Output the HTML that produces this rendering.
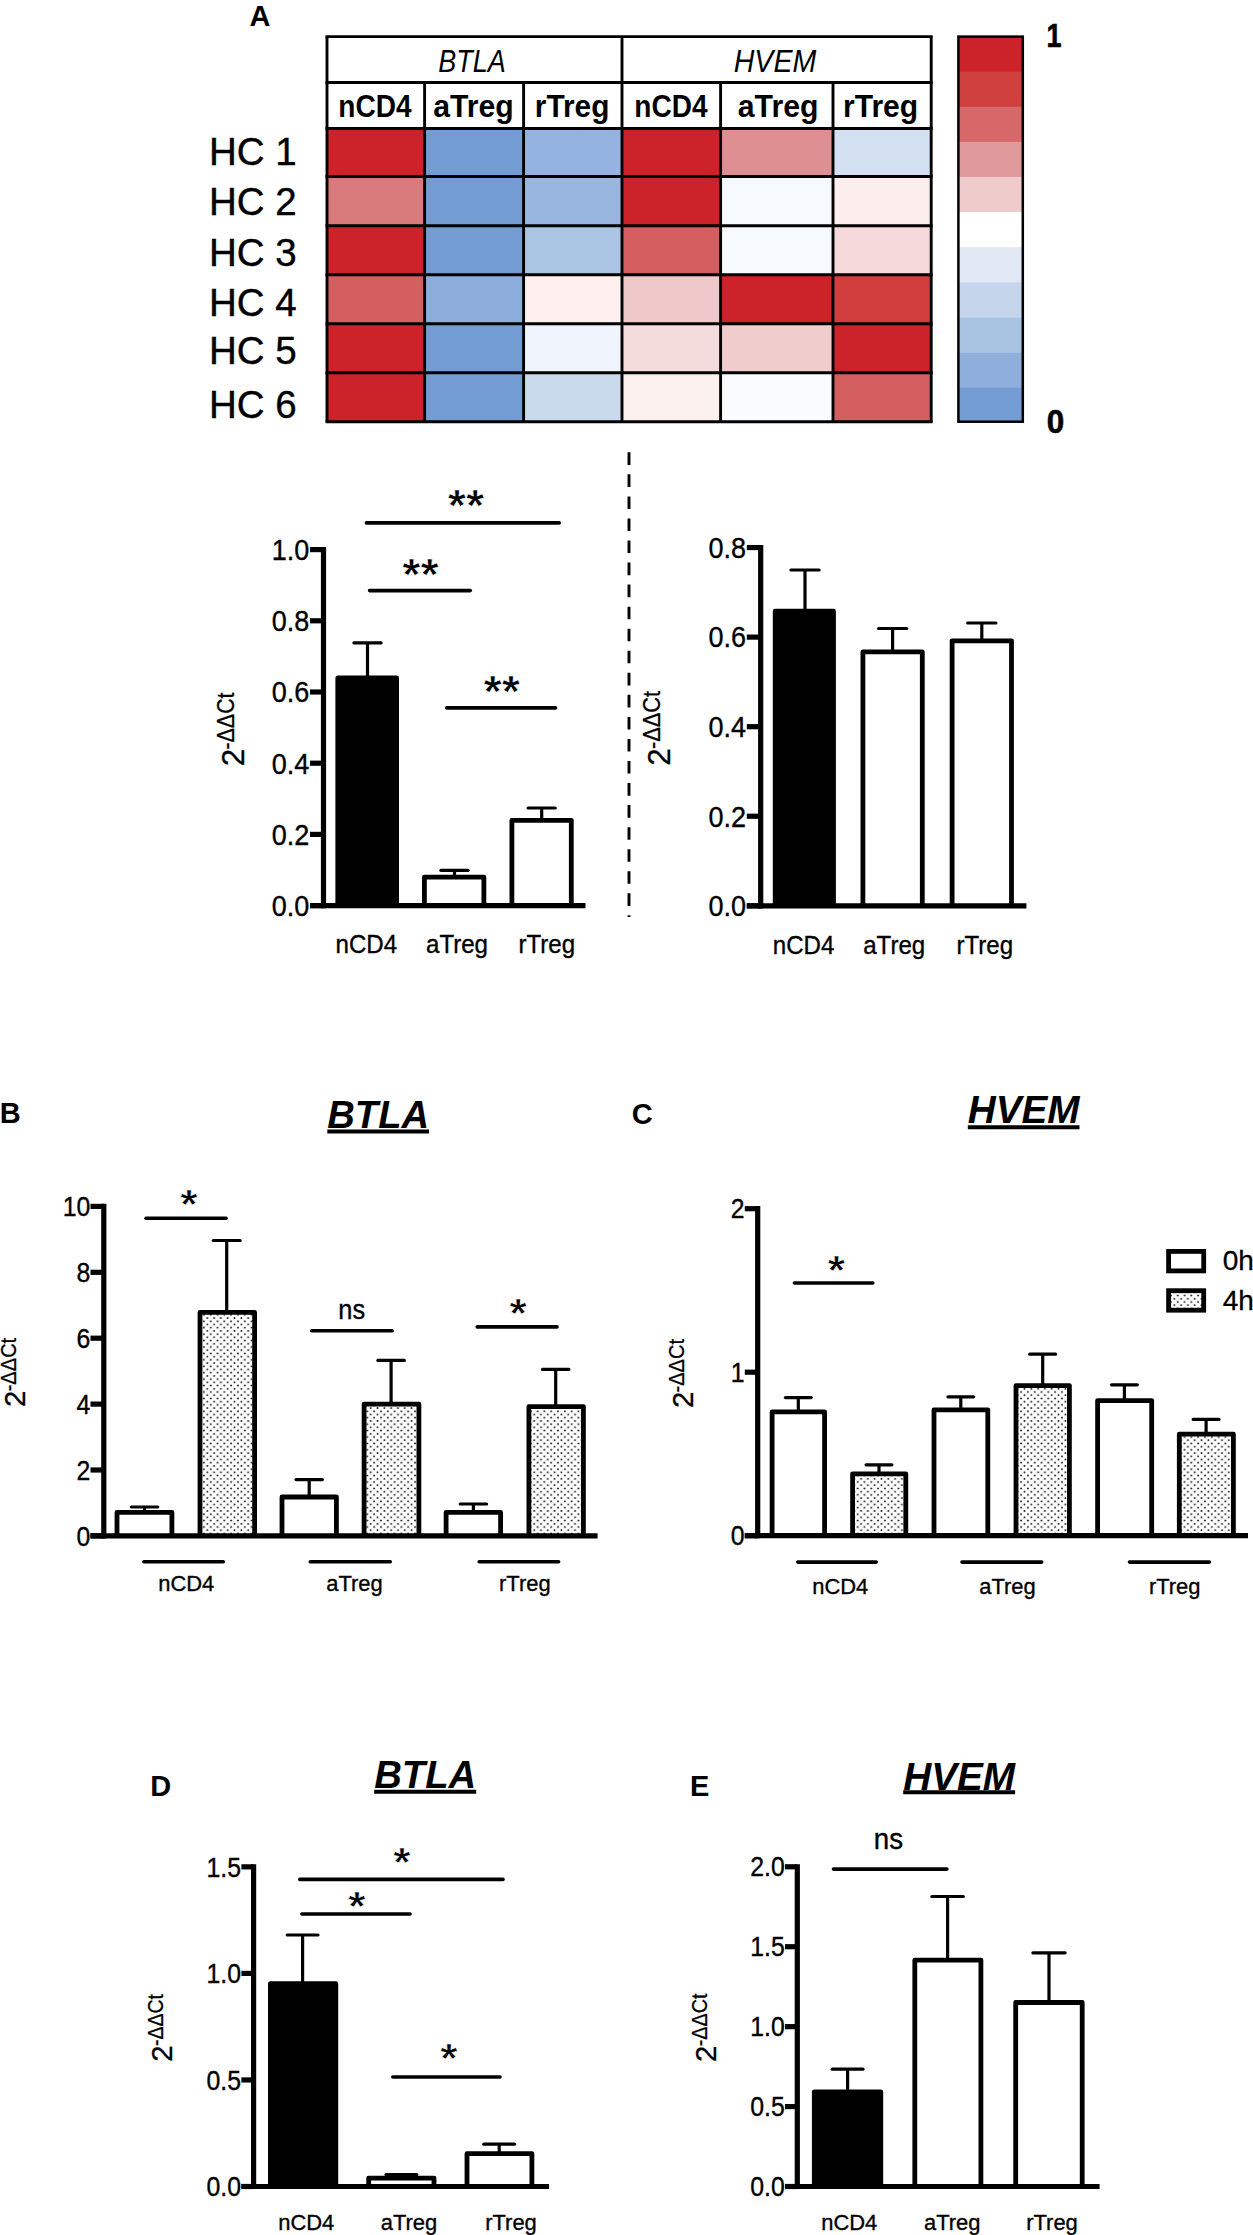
<!DOCTYPE html>
<html lang="en">
<head>
<meta charset="utf-8">
<title>BTLA and HVEM expression</title>
<style>
html,body{margin:0;padding:0;background:#fff;}
body{width:1253px;height:2235px;overflow:hidden;}
svg{display:block;}
text{fill:#000;}
</style>
</head>
<body>
<svg width="1253" height="2235" viewBox="0 0 1253 2235">
<rect width="1253" height="2235" fill="#fff"/>
<rect x="327" y="128.5" width="97.6" height="48.0" fill="#cc2229"/>
<rect x="424.6" y="128.5" width="99.0" height="48.0" fill="#739cd2"/>
<rect x="523.6" y="128.5" width="98.4" height="48.0" fill="#95b3e0"/>
<rect x="622" y="128.5" width="98.6" height="48.0" fill="#cc2229"/>
<rect x="720.6" y="128.5" width="112.4" height="48.0" fill="#de8f91"/>
<rect x="833" y="128.5" width="98.2" height="48.0" fill="#d3e0f1"/>
<rect x="327" y="176.5" width="97.6" height="49.2" fill="#d97a7c"/>
<rect x="424.6" y="176.5" width="99.0" height="49.2" fill="#739cd2"/>
<rect x="523.6" y="176.5" width="98.4" height="49.2" fill="#98b6e0"/>
<rect x="622" y="176.5" width="98.6" height="49.2" fill="#cc2229"/>
<rect x="720.6" y="176.5" width="112.4" height="49.2" fill="#f6f9fd"/>
<rect x="833" y="176.5" width="98.2" height="49.2" fill="#fbeeed"/>
<rect x="327" y="225.7" width="97.6" height="49.0" fill="#cc2229"/>
<rect x="424.6" y="225.7" width="99.0" height="49.0" fill="#739cd2"/>
<rect x="523.6" y="225.7" width="98.4" height="49.0" fill="#aac4e4"/>
<rect x="622" y="225.7" width="98.6" height="49.0" fill="#d45d5f"/>
<rect x="720.6" y="225.7" width="112.4" height="49.0" fill="#f6f9fd"/>
<rect x="833" y="225.7" width="98.2" height="49.0" fill="#f4dada"/>
<rect x="327" y="274.7" width="97.6" height="49.0" fill="#d45f61"/>
<rect x="424.6" y="274.7" width="99.0" height="49.0" fill="#8daedc"/>
<rect x="523.6" y="274.7" width="98.4" height="49.0" fill="#fdf0ef"/>
<rect x="622" y="274.7" width="98.6" height="49.0" fill="#efc9c9"/>
<rect x="720.6" y="274.7" width="112.4" height="49.0" fill="#cc2229"/>
<rect x="833" y="274.7" width="98.2" height="49.0" fill="#d03e3d"/>
<rect x="327" y="323.7" width="97.6" height="49.1" fill="#cc2229"/>
<rect x="424.6" y="323.7" width="99.0" height="49.1" fill="#739cd2"/>
<rect x="523.6" y="323.7" width="98.4" height="49.1" fill="#eef3fc"/>
<rect x="622" y="323.7" width="98.6" height="49.1" fill="#f4dcdc"/>
<rect x="720.6" y="323.7" width="112.4" height="49.1" fill="#f0cccc"/>
<rect x="833" y="323.7" width="98.2" height="49.1" fill="#cc2229"/>
<rect x="327" y="372.8" width="97.6" height="48.9" fill="#cc2229"/>
<rect x="424.6" y="372.8" width="99.0" height="48.9" fill="#739cd2"/>
<rect x="523.6" y="372.8" width="98.4" height="48.9" fill="#c9daed"/>
<rect x="622" y="372.8" width="98.6" height="48.9" fill="#fdf1f0"/>
<rect x="720.6" y="372.8" width="112.4" height="48.9" fill="#f9fbfe"/>
<rect x="833" y="372.8" width="98.2" height="48.9" fill="#d45f61"/>
<line x1="325.55" y1="36.6" x2="932.6500000000001" y2="36.6" stroke="#000" stroke-width="2.9"/>
<line x1="325.55" y1="82.5" x2="932.6500000000001" y2="82.5" stroke="#000" stroke-width="2.9"/>
<line x1="325.55" y1="128.5" x2="932.6500000000001" y2="128.5" stroke="#000" stroke-width="2.9"/>
<line x1="325.55" y1="176.5" x2="932.6500000000001" y2="176.5" stroke="#000" stroke-width="2.9"/>
<line x1="325.55" y1="225.7" x2="932.6500000000001" y2="225.7" stroke="#000" stroke-width="2.9"/>
<line x1="325.55" y1="274.7" x2="932.6500000000001" y2="274.7" stroke="#000" stroke-width="2.9"/>
<line x1="325.55" y1="323.7" x2="932.6500000000001" y2="323.7" stroke="#000" stroke-width="2.9"/>
<line x1="325.55" y1="372.8" x2="932.6500000000001" y2="372.8" stroke="#000" stroke-width="2.9"/>
<line x1="325.55" y1="421.7" x2="932.6500000000001" y2="421.7" stroke="#000" stroke-width="2.9"/>
<line x1="327" y1="36.6" x2="327" y2="421.7" stroke="#000" stroke-width="2.9"/>
<line x1="424.6" y1="82.5" x2="424.6" y2="421.7" stroke="#000" stroke-width="2.9"/>
<line x1="523.6" y1="82.5" x2="523.6" y2="421.7" stroke="#000" stroke-width="2.9"/>
<line x1="622" y1="36.6" x2="622" y2="421.7" stroke="#000" stroke-width="2.9"/>
<line x1="720.6" y1="82.5" x2="720.6" y2="421.7" stroke="#000" stroke-width="2.9"/>
<line x1="833" y1="82.5" x2="833" y2="421.7" stroke="#000" stroke-width="2.9"/>
<line x1="931.2" y1="36.6" x2="931.2" y2="421.7" stroke="#000" stroke-width="2.9"/>
<g font-family='"Liberation Sans", Arial, Helvetica, sans-serif' fill="#000">
<text x="472" y="71.6" font-size="30.5" text-anchor="middle" font-style="italic" textLength="67.5" lengthAdjust="spacingAndGlyphs">BTLA</text>
<text x="775" y="71.5" font-size="30.5" text-anchor="middle" font-style="italic" textLength="82.5" lengthAdjust="spacingAndGlyphs">HVEM</text>
<text x="338.3" y="117.2" font-size="31" font-weight="bold" textLength="73.3" lengthAdjust="spacingAndGlyphs">nCD4</text>
<text x="433.3" y="117.2" font-size="31" font-weight="bold" textLength="80.5" lengthAdjust="spacingAndGlyphs">aTreg</text>
<text x="534.8" y="117.2" font-size="31" font-weight="bold" textLength="74.6" lengthAdjust="spacingAndGlyphs">rTreg</text>
<text x="634.3" y="117.2" font-size="31" font-weight="bold" textLength="73.3" lengthAdjust="spacingAndGlyphs">nCD4</text>
<text x="737.8" y="117.2" font-size="31" font-weight="bold" textLength="80.6" lengthAdjust="spacingAndGlyphs">aTreg</text>
<text x="843" y="117.2" font-size="31" font-weight="bold" textLength="75.2" lengthAdjust="spacingAndGlyphs">rTreg</text>
<text x="209" y="164.5" font-size="38.5" stroke="#000" stroke-width="0.4">HC 1</text>
<text x="209" y="215" font-size="38.5" stroke="#000" stroke-width="0.4">HC 2</text>
<text x="209" y="266" font-size="38.5" stroke="#000" stroke-width="0.4">HC 3</text>
<text x="209" y="316.2" font-size="38.5" stroke="#000" stroke-width="0.4">HC 4</text>
<text x="209" y="363.9" font-size="38.5" stroke="#000" stroke-width="0.4">HC 5</text>
<text x="209" y="417.5" font-size="38.5" stroke="#000" stroke-width="0.4">HC 6</text>
<text x="249.4" y="25.9" font-size="29" font-weight="bold">A</text>
<text x="-0.2" y="1123.4" font-size="29" font-weight="bold">B</text>
<text x="631.8" y="1123.5" font-size="29" font-weight="bold">C</text>
<text x="150.3" y="1796" font-size="29" font-weight="bold">D</text>
<text x="689.9" y="1796" font-size="29" font-weight="bold">E</text>
<text x="1054" y="47" font-size="33" text-anchor="middle" font-weight="bold" textLength="15" lengthAdjust="spacingAndGlyphs" stroke="#000" stroke-width="0.6">1</text>
<text x="1055.5" y="432.7" font-size="33" text-anchor="middle" font-weight="bold" textLength="17.5" lengthAdjust="spacingAndGlyphs" stroke="#000" stroke-width="0.6">0</text>
</g>
<rect x="958.4" y="36.60" width="64.4" height="35.40" fill="#cc2229"/>
<rect x="958.4" y="71.70" width="64.4" height="35.40" fill="#d0403e"/>
<rect x="958.4" y="106.80" width="64.4" height="35.40" fill="#d6686a"/>
<rect x="958.4" y="141.90" width="64.4" height="35.40" fill="#e09a9c"/>
<rect x="958.4" y="177.00" width="64.4" height="35.40" fill="#efcbcc"/>
<rect x="958.4" y="212.10" width="64.4" height="35.40" fill="#ffffff"/>
<rect x="958.4" y="247.20" width="64.4" height="35.40" fill="#e1e7f3"/>
<rect x="958.4" y="282.30" width="64.4" height="35.40" fill="#c5d6ec"/>
<rect x="958.4" y="317.40" width="64.4" height="35.40" fill="#a9c3e2"/>
<rect x="958.4" y="352.50" width="64.4" height="35.40" fill="#8eafdb"/>
<rect x="958.4" y="387.60" width="64.4" height="35.40" fill="#739cd2"/>
<rect x="958.4" y="36.6" width="64.4" height="385.1" fill="none" stroke="#000" stroke-width="2.5"/>
<line x1="629" y1="452.3" x2="629" y2="917.1" stroke="#000" stroke-width="2.9" stroke-dasharray="12.6 9.45"/>
<defs><pattern id="dots" patternUnits="userSpaceOnUse" x="203.9" y="1318.05" width="6.81" height="6.43"><rect width="6.81" height="6.43" fill="#fff"/><circle cx="3.4" cy="0" r="1.0" fill="#1a1a1a"/><circle cx="3.4" cy="6.43" r="1.0" fill="#1a1a1a"/><circle cx="0" cy="3.215" r="1.0" fill="#1a1a1a"/><circle cx="6.81" cy="3.215" r="1.0" fill="#1a1a1a"/></pattern></defs>
<text transform="translate(309.3,559.9) scale(0.94,1)" font-size="28.75" text-anchor="end" stroke="#000" stroke-width="0.35" font-family='"Liberation Sans", Arial, Helvetica, sans-serif'>1.0</text>
<text transform="translate(309.3,631.1) scale(0.94,1)" font-size="28.75" text-anchor="end" stroke="#000" stroke-width="0.35" font-family='"Liberation Sans", Arial, Helvetica, sans-serif'>0.8</text>
<text transform="translate(309.3,702.3) scale(0.94,1)" font-size="28.75" text-anchor="end" stroke="#000" stroke-width="0.35" font-family='"Liberation Sans", Arial, Helvetica, sans-serif'>0.6</text>
<text transform="translate(309.3,773.5) scale(0.94,1)" font-size="28.75" text-anchor="end" stroke="#000" stroke-width="0.35" font-family='"Liberation Sans", Arial, Helvetica, sans-serif'>0.4</text>
<text transform="translate(309.3,844.7) scale(0.94,1)" font-size="28.75" text-anchor="end" stroke="#000" stroke-width="0.35" font-family='"Liberation Sans", Arial, Helvetica, sans-serif'>0.2</text>
<text transform="translate(309.3,915.9) scale(0.94,1)" font-size="28.75" text-anchor="end" stroke="#000" stroke-width="0.35" font-family='"Liberation Sans", Arial, Helvetica, sans-serif'>0.0</text>
<line x1="367.5" y1="642.8" x2="367.5" y2="680" stroke="#000" stroke-width="3.2"/>
<line x1="353.9" y1="642.8" x2="381.1" y2="642.8" stroke="#000" stroke-width="3.2" stroke-linecap="round"/>
<path d="M337.79999999999995,905.6 V677.9 H396.6 V905.6" fill="#000" stroke="#000" stroke-width="4.8" stroke-linejoin="round"/>
<line x1="454.5" y1="870.3" x2="454.5" y2="878" stroke="#000" stroke-width="3.2"/>
<line x1="440.9" y1="870.3" x2="468.1" y2="870.3" stroke="#000" stroke-width="3.2" stroke-linecap="round"/>
<path d="M424.4,905.6 V877.1999999999999 H483.90000000000003 V905.6" fill="#fff" stroke="#000" stroke-width="4.8" stroke-linejoin="round"/>
<line x1="541.7" y1="808" x2="541.7" y2="821" stroke="#000" stroke-width="3.2"/>
<line x1="528.1" y1="808" x2="555.3000000000001" y2="808" stroke="#000" stroke-width="3.2" stroke-linecap="round"/>
<path d="M511.9,905.6 V820.3 H571.3000000000001 V905.6" fill="#fff" stroke="#000" stroke-width="4.8" stroke-linejoin="round"/>
<line x1="366.40000000000003" y1="522.9" x2="559.2" y2="522.9" stroke="#000" stroke-width="3.6" stroke-linecap="round"/>
<text transform="translate(466.2,520.9) scale(1.05,1)" font-size="43.5" letter-spacing="0.5" text-anchor="middle" font-weight="bold" stroke="#fff" stroke-width="0.6" font-family='"Liberation Sans", Arial, Helvetica, sans-serif'>**</text>
<line x1="369.6" y1="590.6" x2="470.3" y2="590.6" stroke="#000" stroke-width="3.6" stroke-linecap="round"/>
<text transform="translate(420.8,589.9) scale(1.05,1)" font-size="43.5" letter-spacing="0.5" text-anchor="middle" font-weight="bold" stroke="#fff" stroke-width="0.6" font-family='"Liberation Sans", Arial, Helvetica, sans-serif'>**</text>
<line x1="446.8" y1="707.9" x2="555.6" y2="707.9" stroke="#000" stroke-width="3.6" stroke-linecap="round"/>
<text transform="translate(502,707) scale(1.05,1)" font-size="43.5" letter-spacing="0.5" text-anchor="middle" font-weight="bold" stroke="#fff" stroke-width="0.6" font-family='"Liberation Sans", Arial, Helvetica, sans-serif'>**</text>
<text transform="translate(366.3,952.8) scale(0.945,1)" font-size="25.5" text-anchor="middle" stroke="#000" stroke-width="0.35" font-family='"Liberation Sans", Arial, Helvetica, sans-serif'>nCD4</text>
<text transform="translate(457,952.8) scale(0.945,1)" font-size="25.5" text-anchor="middle" stroke="#000" stroke-width="0.35" font-family='"Liberation Sans", Arial, Helvetica, sans-serif'>aTreg</text>
<text transform="translate(546.7,952.8) scale(0.945,1)" font-size="25.5" text-anchor="middle" stroke="#000" stroke-width="0.35" font-family='"Liberation Sans", Arial, Helvetica, sans-serif'>rTreg</text>
<text transform="translate(243.7,766.2) rotate(-90)" font-family='"Liberation Sans", Arial, Helvetica, sans-serif' fill="#000" stroke="#000" stroke-width="0.3"><tspan font-size="31.5">2</tspan><tspan font-size="24.5" x="16.7" dy="-9.3" textLength="57.0" lengthAdjust="spacingAndGlyphs">-ΔΔCt</tspan></text>
<text transform="translate(746,557.9) scale(0.94,1)" font-size="28.75" text-anchor="end" stroke="#000" stroke-width="0.35" font-family='"Liberation Sans", Arial, Helvetica, sans-serif'>0.8</text>
<text transform="translate(746,647.4) scale(0.94,1)" font-size="28.75" text-anchor="end" stroke="#000" stroke-width="0.35" font-family='"Liberation Sans", Arial, Helvetica, sans-serif'>0.6</text>
<text transform="translate(746,737.0) scale(0.94,1)" font-size="28.75" text-anchor="end" stroke="#000" stroke-width="0.35" font-family='"Liberation Sans", Arial, Helvetica, sans-serif'>0.4</text>
<text transform="translate(746,826.5) scale(0.94,1)" font-size="28.75" text-anchor="end" stroke="#000" stroke-width="0.35" font-family='"Liberation Sans", Arial, Helvetica, sans-serif'>0.2</text>
<text transform="translate(746,916.1) scale(0.94,1)" font-size="28.75" text-anchor="end" stroke="#000" stroke-width="0.35" font-family='"Liberation Sans", Arial, Helvetica, sans-serif'>0.0</text>
<line x1="805" y1="570" x2="805" y2="612" stroke="#000" stroke-width="3.2"/>
<line x1="790.9" y1="570" x2="819.1" y2="570" stroke="#000" stroke-width="3.2" stroke-linecap="round"/>
<path d="M775.1999999999999,905.8 V611.1999999999999 H833.5 V905.8" fill="#000" stroke="#000" stroke-width="4.8" stroke-linejoin="round"/>
<line x1="892.6" y1="628.5" x2="892.6" y2="652" stroke="#000" stroke-width="3.2"/>
<line x1="878.5" y1="628.5" x2="906.7" y2="628.5" stroke="#000" stroke-width="3.2" stroke-linecap="round"/>
<path d="M862.9,905.8 V651.8 H922.3000000000001 V905.8" fill="#fff" stroke="#000" stroke-width="4.8" stroke-linejoin="round"/>
<line x1="981.8" y1="623" x2="981.8" y2="641" stroke="#000" stroke-width="3.2"/>
<line x1="967.6999999999999" y1="623" x2="995.9" y2="623" stroke="#000" stroke-width="3.2" stroke-linecap="round"/>
<path d="M952.1,905.8 V640.8 H1011.5 V905.8" fill="#fff" stroke="#000" stroke-width="4.8" stroke-linejoin="round"/>
<text transform="translate(803.6,954.4) scale(0.945,1)" font-size="25.5" text-anchor="middle" stroke="#000" stroke-width="0.35" font-family='"Liberation Sans", Arial, Helvetica, sans-serif'>nCD4</text>
<text transform="translate(894.2,954.4) scale(0.945,1)" font-size="25.5" text-anchor="middle" stroke="#000" stroke-width="0.35" font-family='"Liberation Sans", Arial, Helvetica, sans-serif'>aTreg</text>
<text transform="translate(984.7,954.4) scale(0.945,1)" font-size="25.5" text-anchor="middle" stroke="#000" stroke-width="0.35" font-family='"Liberation Sans", Arial, Helvetica, sans-serif'>rTreg</text>
<text transform="translate(669.9,765.8) rotate(-90)" font-family='"Liberation Sans", Arial, Helvetica, sans-serif' fill="#000" stroke="#000" stroke-width="0.3"><tspan font-size="31.5">2</tspan><tspan font-size="24.5" x="16.7" dy="-10" textLength="58.2" lengthAdjust="spacingAndGlyphs">-ΔΔCt</tspan></text>
<text transform="translate(90.4,1216.1) scale(0.92,1)" font-size="27" text-anchor="end" stroke="#000" stroke-width="0.35" font-family='"Liberation Sans", Arial, Helvetica, sans-serif'>10</text>
<text transform="translate(90.4,1282.0) scale(0.92,1)" font-size="27" text-anchor="end" stroke="#000" stroke-width="0.35" font-family='"Liberation Sans", Arial, Helvetica, sans-serif'>8</text>
<text transform="translate(90.4,1347.9) scale(0.92,1)" font-size="27" text-anchor="end" stroke="#000" stroke-width="0.35" font-family='"Liberation Sans", Arial, Helvetica, sans-serif'>6</text>
<text transform="translate(90.4,1413.8) scale(0.92,1)" font-size="27" text-anchor="end" stroke="#000" stroke-width="0.35" font-family='"Liberation Sans", Arial, Helvetica, sans-serif'>4</text>
<text transform="translate(90.4,1479.7) scale(0.92,1)" font-size="27" text-anchor="end" stroke="#000" stroke-width="0.35" font-family='"Liberation Sans", Arial, Helvetica, sans-serif'>2</text>
<text transform="translate(90.4,1545.6) scale(0.92,1)" font-size="27" text-anchor="end" stroke="#000" stroke-width="0.35" font-family='"Liberation Sans", Arial, Helvetica, sans-serif'>0</text>
<line x1="144.5" y1="1507" x2="144.5" y2="1512" stroke="#000" stroke-width="3.2"/>
<line x1="131.3" y1="1507" x2="157.7" y2="1507" stroke="#000" stroke-width="3.2" stroke-linecap="round"/>
<path d="M117.0,1535.9 V1512.4 H171.9 V1535.9" fill="#fff" stroke="#000" stroke-width="4.8" stroke-linejoin="round"/>
<line x1="226.7" y1="1240.5" x2="226.7" y2="1313" stroke="#000" stroke-width="3.2"/>
<line x1="213.29999999999998" y1="1240.5" x2="240.1" y2="1240.5" stroke="#000" stroke-width="3.2" stroke-linecap="round"/>
<path d="M200.0,1535.9 V1312.4 H254.6 V1535.9" fill="url(#dots)" stroke="#000" stroke-width="4.8" stroke-linejoin="round"/>
<line x1="309.2" y1="1479.6" x2="309.2" y2="1497" stroke="#000" stroke-width="3.2"/>
<line x1="296.0" y1="1479.6" x2="322.4" y2="1479.6" stroke="#000" stroke-width="3.2" stroke-linecap="round"/>
<path d="M282.0,1535.9 V1497.0 H336.40000000000003 V1535.9" fill="#fff" stroke="#000" stroke-width="4.8" stroke-linejoin="round"/>
<line x1="391.1" y1="1360.4" x2="391.1" y2="1404" stroke="#000" stroke-width="3.2"/>
<line x1="377.90000000000003" y1="1360.4" x2="404.3" y2="1360.4" stroke="#000" stroke-width="3.2" stroke-linecap="round"/>
<path d="M364.09999999999997,1535.9 V1404.2 H418.90000000000003 V1535.9" fill="url(#dots)" stroke="#000" stroke-width="4.8" stroke-linejoin="round"/>
<line x1="473.4" y1="1504" x2="473.4" y2="1512" stroke="#000" stroke-width="3.2"/>
<line x1="460.2" y1="1504" x2="486.59999999999997" y2="1504" stroke="#000" stroke-width="3.2" stroke-linecap="round"/>
<path d="M446.09999999999997,1535.9 V1512.4 H500.6 V1535.9" fill="#fff" stroke="#000" stroke-width="4.8" stroke-linejoin="round"/>
<line x1="555.7" y1="1369.4" x2="555.7" y2="1407" stroke="#000" stroke-width="3.2"/>
<line x1="542.5" y1="1369.4" x2="568.9000000000001" y2="1369.4" stroke="#000" stroke-width="3.2" stroke-linecap="round"/>
<path d="M528.9,1535.9 V1406.6000000000001 H583.4 V1535.9" fill="url(#dots)" stroke="#000" stroke-width="4.8" stroke-linejoin="round"/>
<line x1="146.0" y1="1218.3" x2="226.1" y2="1218.3" stroke="#000" stroke-width="3.6" stroke-linecap="round"/>
<text transform="translate(188.9,1217.6) scale(1.1,1)" font-size="40.3" letter-spacing="0" text-anchor="middle" font-weight="bold" stroke="#fff" stroke-width="0.6" font-family='"Liberation Sans", Arial, Helvetica, sans-serif'>*</text>
<line x1="311.8" y1="1330.7" x2="392.09999999999997" y2="1330.7" stroke="#000" stroke-width="3.6" stroke-linecap="round"/>
<text transform="translate(351.7,1319.2) scale(0.94,1)" font-size="27" text-anchor="middle" stroke="#000" stroke-width="0.35" font-family='"Liberation Sans", Arial, Helvetica, sans-serif'>ns</text>
<line x1="477.2" y1="1326.9" x2="557.0" y2="1326.9" stroke="#000" stroke-width="3.6" stroke-linecap="round"/>
<text transform="translate(518.1,1327.3) scale(1.1,1)" font-size="40.3" letter-spacing="0" text-anchor="middle" font-weight="bold" stroke="#fff" stroke-width="0.6" font-family='"Liberation Sans", Arial, Helvetica, sans-serif'>*</text>
<line x1="143.9" y1="1561.8" x2="223.29999999999998" y2="1561.8" stroke="#000" stroke-width="3.6" stroke-linecap="round"/>
<text transform="translate(186.2,1591) scale(0.957,1)" font-size="22.9" text-anchor="middle" stroke="#000" stroke-width="0.35" font-family='"Liberation Sans", Arial, Helvetica, sans-serif'>nCD4</text>
<line x1="310.3" y1="1561.8" x2="390.3" y2="1561.8" stroke="#000" stroke-width="3.6" stroke-linecap="round"/>
<text transform="translate(354.5,1591) scale(0.957,1)" font-size="22.9" text-anchor="middle" stroke="#000" stroke-width="0.35" font-family='"Liberation Sans", Arial, Helvetica, sans-serif'>aTreg</text>
<line x1="479.2" y1="1561.8" x2="558.6" y2="1561.8" stroke="#000" stroke-width="3.6" stroke-linecap="round"/>
<text transform="translate(524.8,1591) scale(0.957,1)" font-size="22.9" text-anchor="middle" stroke="#000" stroke-width="0.35" font-family='"Liberation Sans", Arial, Helvetica, sans-serif'>rTreg</text>
<text transform="translate(24.9,1406.9) rotate(-90)" font-family='"Liberation Sans", Arial, Helvetica, sans-serif' fill="#000" stroke="#000" stroke-width="0.3"><tspan font-size="29.5">2</tspan><tspan font-size="21.5" x="15.6" dy="-8.9" textLength="53.5" lengthAdjust="spacingAndGlyphs">-ΔΔCt</tspan></text>
<text x="327.3" y="1128.4" font-size="38" font-weight="bold" font-style="italic" font-family='"Liberation Sans", Arial, Helvetica, sans-serif' textLength="101.7" lengthAdjust="spacingAndGlyphs">BTLA</text>
<line x1="327.3" y1="1131.6" x2="429" y2="1131.6" stroke="#000" stroke-width="4"/>
<text transform="translate(744.6,1218.4) scale(0.92,1)" font-size="27" text-anchor="end" stroke="#000" stroke-width="0.35" font-family='"Liberation Sans", Arial, Helvetica, sans-serif'>2</text>
<text transform="translate(744.6,1381.9) scale(0.92,1)" font-size="27" text-anchor="end" stroke="#000" stroke-width="0.35" font-family='"Liberation Sans", Arial, Helvetica, sans-serif'>1</text>
<text transform="translate(744.6,1545.4) scale(0.92,1)" font-size="27" text-anchor="end" stroke="#000" stroke-width="0.35" font-family='"Liberation Sans", Arial, Helvetica, sans-serif'>0</text>
<line x1="798.3" y1="1397.6" x2="798.3" y2="1412" stroke="#000" stroke-width="3.2"/>
<line x1="785.4" y1="1397.6" x2="811.1999999999999" y2="1397.6" stroke="#000" stroke-width="3.2" stroke-linecap="round"/>
<path d="M772.1,1535.7 V1411.9 H824.6 V1535.7" fill="#fff" stroke="#000" stroke-width="4.8" stroke-linejoin="round"/>
<line x1="879" y1="1464.8" x2="879" y2="1474" stroke="#000" stroke-width="3.2"/>
<line x1="866.1" y1="1464.8" x2="891.9" y2="1464.8" stroke="#000" stroke-width="3.2" stroke-linecap="round"/>
<path d="M852.6,1535.7 V1473.9 H905.8000000000001 V1535.7" fill="url(#dots)" stroke="#000" stroke-width="4.8" stroke-linejoin="round"/>
<line x1="960.8" y1="1396.8" x2="960.8" y2="1410" stroke="#000" stroke-width="3.2"/>
<line x1="947.9" y1="1396.8" x2="973.6999999999999" y2="1396.8" stroke="#000" stroke-width="3.2" stroke-linecap="round"/>
<path d="M934.0,1535.7 V1409.8000000000002 H987.8000000000001 V1535.7" fill="#fff" stroke="#000" stroke-width="4.8" stroke-linejoin="round"/>
<line x1="1042.7" y1="1354.2" x2="1042.7" y2="1386" stroke="#000" stroke-width="3.2"/>
<line x1="1029.8" y1="1354.2" x2="1055.6000000000001" y2="1354.2" stroke="#000" stroke-width="3.2" stroke-linecap="round"/>
<path d="M1016.0,1535.7 V1385.6000000000001 H1069.3999999999999 V1535.7" fill="url(#dots)" stroke="#000" stroke-width="4.8" stroke-linejoin="round"/>
<line x1="1124.4" y1="1384.8" x2="1124.4" y2="1401" stroke="#000" stroke-width="3.2"/>
<line x1="1111.5" y1="1384.8" x2="1137.3000000000002" y2="1384.8" stroke="#000" stroke-width="3.2" stroke-linecap="round"/>
<path d="M1097.6000000000001,1535.7 V1400.7 H1151.6999999999998 V1535.7" fill="#fff" stroke="#000" stroke-width="4.8" stroke-linejoin="round"/>
<line x1="1206.1" y1="1419.4" x2="1206.1" y2="1434" stroke="#000" stroke-width="3.2"/>
<line x1="1193.1999999999998" y1="1419.4" x2="1219.0" y2="1419.4" stroke="#000" stroke-width="3.2" stroke-linecap="round"/>
<path d="M1179.3000000000002,1535.7 V1434.2 H1233.3999999999999 V1535.7" fill="url(#dots)" stroke="#000" stroke-width="4.8" stroke-linejoin="round"/>
<line x1="794.4" y1="1283" x2="872.8000000000001" y2="1283" stroke="#000" stroke-width="3.6" stroke-linecap="round"/>
<text transform="translate(836.4,1284.3) scale(1.1,1)" font-size="40.3" letter-spacing="0" text-anchor="middle" font-weight="bold" stroke="#fff" stroke-width="0.6" font-family='"Liberation Sans", Arial, Helvetica, sans-serif'>*</text>
<line x1="797.8" y1="1562.1" x2="876.2" y2="1562.1" stroke="#000" stroke-width="3.6" stroke-linecap="round"/>
<text transform="translate(840.3,1593.9) scale(0.957,1)" font-size="22.9" text-anchor="middle" stroke="#000" stroke-width="0.35" font-family='"Liberation Sans", Arial, Helvetica, sans-serif'>nCD4</text>
<line x1="962.0" y1="1562.1" x2="1041.7" y2="1562.1" stroke="#000" stroke-width="3.6" stroke-linecap="round"/>
<text transform="translate(1007.5,1593.9) scale(0.957,1)" font-size="22.9" text-anchor="middle" stroke="#000" stroke-width="0.35" font-family='"Liberation Sans", Arial, Helvetica, sans-serif'>aTreg</text>
<line x1="1129.5" y1="1562.1" x2="1209.4" y2="1562.1" stroke="#000" stroke-width="3.6" stroke-linecap="round"/>
<text transform="translate(1174.7,1593.9) scale(0.957,1)" font-size="22.9" text-anchor="middle" stroke="#000" stroke-width="0.35" font-family='"Liberation Sans", Arial, Helvetica, sans-serif'>rTreg</text>
<text transform="translate(692.6,1408.1) rotate(-90)" font-family='"Liberation Sans", Arial, Helvetica, sans-serif' fill="#000" stroke="#000" stroke-width="0.3"><tspan font-size="29.5">2</tspan><tspan font-size="21.5" x="15.6" dy="-8.9" textLength="53.5" lengthAdjust="spacingAndGlyphs">-ΔΔCt</tspan></text>
<text x="967.8" y="1122.5" font-size="38" font-weight="bold" font-style="italic" font-family='"Liberation Sans", Arial, Helvetica, sans-serif' textLength="111.7" lengthAdjust="spacingAndGlyphs">HVEM</text>
<line x1="967.8" y1="1127.2" x2="1079.5" y2="1127.2" stroke="#000" stroke-width="4"/>
<rect x="1168.6" y="1251.4" width="35.1" height="19.5" fill="#fff" stroke="#000" stroke-width="4.8"/>
<rect x="1168.6" y="1290.7" width="35.1" height="19.5" fill="url(#dots)" stroke="#000" stroke-width="4.8"/>
<text x="1222.8" y="1270.1" font-size="28" font-family='"Liberation Sans", Arial, Helvetica, sans-serif' stroke="#000" stroke-width="0.3">0h</text>
<text x="1222.8" y="1309.6" font-size="28" font-family='"Liberation Sans", Arial, Helvetica, sans-serif' stroke="#000" stroke-width="0.3">4h</text>
<text transform="translate(241,1876.5) scale(0.92,1)" font-size="27" text-anchor="end" stroke="#000" stroke-width="0.35" font-family='"Liberation Sans", Arial, Helvetica, sans-serif'>1.5</text>
<text transform="translate(241,1983.1) scale(0.92,1)" font-size="27" text-anchor="end" stroke="#000" stroke-width="0.35" font-family='"Liberation Sans", Arial, Helvetica, sans-serif'>1.0</text>
<text transform="translate(241,2089.6) scale(0.92,1)" font-size="27" text-anchor="end" stroke="#000" stroke-width="0.35" font-family='"Liberation Sans", Arial, Helvetica, sans-serif'>0.5</text>
<text transform="translate(241,2196.2) scale(0.92,1)" font-size="27" text-anchor="end" stroke="#000" stroke-width="0.35" font-family='"Liberation Sans", Arial, Helvetica, sans-serif'>0.0</text>
<line x1="302.6" y1="1935" x2="302.6" y2="1985" stroke="#000" stroke-width="3.2"/>
<line x1="287.20000000000005" y1="1935" x2="318.0" y2="1935" stroke="#000" stroke-width="3.2" stroke-linecap="round"/>
<path d="M270.4,2186.5 V1983.7 H335.8 V2186.5" fill="#000" stroke="#000" stroke-width="4.8" stroke-linejoin="round"/>
<line x1="401.4" y1="2174.6" x2="401.4" y2="2178" stroke="#000" stroke-width="3.2"/>
<line x1="386.0" y1="2174.6" x2="416.79999999999995" y2="2174.6" stroke="#000" stroke-width="3.2" stroke-linecap="round"/>
<path d="M368.7,2186.5 V2178.1 H434.0 V2186.5" fill="#fff" stroke="#000" stroke-width="4.8" stroke-linejoin="round"/>
<line x1="499.2" y1="2144.2" x2="499.2" y2="2154" stroke="#000" stroke-width="3.2"/>
<line x1="483.8" y1="2144.2" x2="514.6" y2="2144.2" stroke="#000" stroke-width="3.2" stroke-linecap="round"/>
<path d="M467.0,2186.5 V2153.7000000000003 H531.9 V2186.5" fill="#fff" stroke="#000" stroke-width="4.8" stroke-linejoin="round"/>
<line x1="299.8" y1="1879.4" x2="503.0" y2="1879.4" stroke="#000" stroke-width="3.6" stroke-linecap="round"/>
<text transform="translate(402,1875.5) scale(1.1,1)" font-size="40.3" letter-spacing="0" text-anchor="middle" font-weight="bold" stroke="#fff" stroke-width="0.6" font-family='"Liberation Sans", Arial, Helvetica, sans-serif'>*</text>
<line x1="301.90000000000003" y1="1914" x2="410.0" y2="1914" stroke="#000" stroke-width="3.6" stroke-linecap="round"/>
<text transform="translate(357,1920.2) scale(1.1,1)" font-size="40.3" letter-spacing="0" text-anchor="middle" font-weight="bold" stroke="#fff" stroke-width="0.6" font-family='"Liberation Sans", Arial, Helvetica, sans-serif'>*</text>
<line x1="392.8" y1="2077" x2="500.0" y2="2077" stroke="#000" stroke-width="3.6" stroke-linecap="round"/>
<text transform="translate(448.8,2072.4) scale(1.1,1)" font-size="40.3" letter-spacing="0" text-anchor="middle" font-weight="bold" stroke="#fff" stroke-width="0.6" font-family='"Liberation Sans", Arial, Helvetica, sans-serif'>*</text>
<text transform="translate(306.3,2229.6) scale(0.957,1)" font-size="22.9" text-anchor="middle" stroke="#000" stroke-width="0.35" font-family='"Liberation Sans", Arial, Helvetica, sans-serif'>nCD4</text>
<text transform="translate(409,2229.6) scale(0.957,1)" font-size="22.9" text-anchor="middle" stroke="#000" stroke-width="0.35" font-family='"Liberation Sans", Arial, Helvetica, sans-serif'>aTreg</text>
<text transform="translate(511,2229.6) scale(0.957,1)" font-size="22.9" text-anchor="middle" stroke="#000" stroke-width="0.35" font-family='"Liberation Sans", Arial, Helvetica, sans-serif'>rTreg</text>
<text transform="translate(172.3,2061.7) rotate(-90)" font-family='"Liberation Sans", Arial, Helvetica, sans-serif' fill="#000" stroke="#000" stroke-width="0.3"><tspan font-size="29.5">2</tspan><tspan font-size="21.5" x="15.6" dy="-8.9" textLength="52.1" lengthAdjust="spacingAndGlyphs">-ΔΔCt</tspan></text>
<text x="374.2" y="1787.5" font-size="38" font-weight="bold" font-style="italic" font-family='"Liberation Sans", Arial, Helvetica, sans-serif' textLength="102.0" lengthAdjust="spacingAndGlyphs">BTLA</text>
<line x1="374.2" y1="1791.7" x2="476.2" y2="1791.7" stroke="#000" stroke-width="4"/>
<text transform="translate(784.8,1876.4) scale(0.92,1)" font-size="27" text-anchor="end" stroke="#000" stroke-width="0.35" font-family='"Liberation Sans", Arial, Helvetica, sans-serif'>2.0</text>
<text transform="translate(784.8,1956.4) scale(0.92,1)" font-size="27" text-anchor="end" stroke="#000" stroke-width="0.35" font-family='"Liberation Sans", Arial, Helvetica, sans-serif'>1.5</text>
<text transform="translate(784.8,2036.3) scale(0.92,1)" font-size="27" text-anchor="end" stroke="#000" stroke-width="0.35" font-family='"Liberation Sans", Arial, Helvetica, sans-serif'>1.0</text>
<text transform="translate(784.8,2116.2) scale(0.92,1)" font-size="27" text-anchor="end" stroke="#000" stroke-width="0.35" font-family='"Liberation Sans", Arial, Helvetica, sans-serif'>0.5</text>
<text transform="translate(784.8,2196.2) scale(0.92,1)" font-size="27" text-anchor="end" stroke="#000" stroke-width="0.35" font-family='"Liberation Sans", Arial, Helvetica, sans-serif'>0.0</text>
<line x1="847.6" y1="2069.2" x2="847.6" y2="2093" stroke="#000" stroke-width="3.2"/>
<line x1="832.2" y1="2069.2" x2="863.0" y2="2069.2" stroke="#000" stroke-width="3.2" stroke-linecap="round"/>
<path d="M814.3,2186.5 V2091.8 H880.8000000000001 V2186.5" fill="#000" stroke="#000" stroke-width="4.8" stroke-linejoin="round"/>
<line x1="947.6" y1="1896.5" x2="947.6" y2="1961" stroke="#000" stroke-width="3.2"/>
<line x1="931.9" y1="1896.5" x2="963.3000000000001" y2="1896.5" stroke="#000" stroke-width="3.2" stroke-linecap="round"/>
<path d="M914.8,2186.5 V1960.1000000000001 H980.9 V2186.5" fill="#fff" stroke="#000" stroke-width="4.8" stroke-linejoin="round"/>
<line x1="1049" y1="1952.8" x2="1049" y2="2003" stroke="#000" stroke-width="3.2"/>
<line x1="1032.9" y1="1952.8" x2="1065.1" y2="1952.8" stroke="#000" stroke-width="3.2" stroke-linecap="round"/>
<path d="M1015.6999999999999,2186.5 V2002.5 H1082.1999999999998 V2186.5" fill="#fff" stroke="#000" stroke-width="4.8" stroke-linejoin="round"/>
<line x1="833.5" y1="1869.1" x2="946.9000000000001" y2="1869.1" stroke="#000" stroke-width="3.6" stroke-linecap="round"/>
<text transform="translate(888.4,1849.1) scale(0.94,1)" font-size="29.5" text-anchor="middle" stroke="#000" stroke-width="0.35" font-family='"Liberation Sans", Arial, Helvetica, sans-serif'>ns</text>
<text transform="translate(849.2,2229.6) scale(0.957,1)" font-size="22.9" text-anchor="middle" stroke="#000" stroke-width="0.35" font-family='"Liberation Sans", Arial, Helvetica, sans-serif'>nCD4</text>
<text transform="translate(952.2,2229.6) scale(0.957,1)" font-size="22.9" text-anchor="middle" stroke="#000" stroke-width="0.35" font-family='"Liberation Sans", Arial, Helvetica, sans-serif'>aTreg</text>
<text transform="translate(1052,2229.6) scale(0.957,1)" font-size="22.9" text-anchor="middle" stroke="#000" stroke-width="0.35" font-family='"Liberation Sans", Arial, Helvetica, sans-serif'>rTreg</text>
<text transform="translate(715.9,2061.9) rotate(-90)" font-family='"Liberation Sans", Arial, Helvetica, sans-serif' fill="#000" stroke="#000" stroke-width="0.3"><tspan font-size="29.5">2</tspan><tspan font-size="21.5" x="15.6" dy="-8.9" textLength="52.8" lengthAdjust="spacingAndGlyphs">-ΔΔCt</tspan></text>
<text x="903.2" y="1789.8" font-size="38" font-weight="bold" font-style="italic" font-family='"Liberation Sans", Arial, Helvetica, sans-serif' textLength="111.9" lengthAdjust="spacingAndGlyphs">HVEM</text>
<line x1="903.2" y1="1792.3" x2="1015.1" y2="1792.3" stroke="#000" stroke-width="4"/>
<line x1="323.5" y1="547.0" x2="323.5" y2="908.2" stroke="#000" stroke-width="5.2"/>
<line x1="310" y1="905.6" x2="585.5" y2="905.6" stroke="#000" stroke-width="5.2"/>
<line x1="310" y1="549.6" x2="323.5" y2="549.6" stroke="#000" stroke-width="5.2"/>
<line x1="310" y1="620.8" x2="323.5" y2="620.8" stroke="#000" stroke-width="5.2"/>
<line x1="310" y1="692.0" x2="323.5" y2="692.0" stroke="#000" stroke-width="5.2"/>
<line x1="310" y1="763.2" x2="323.5" y2="763.2" stroke="#000" stroke-width="5.2"/>
<line x1="310" y1="834.4" x2="323.5" y2="834.4" stroke="#000" stroke-width="5.2"/>
<line x1="310" y1="905.6" x2="323.5" y2="905.6" stroke="#000" stroke-width="5.2"/>
<line x1="760.7" y1="544.9599999999999" x2="760.7" y2="908.4" stroke="#000" stroke-width="5.2"/>
<line x1="746.8" y1="905.8" x2="1026.4" y2="905.8" stroke="#000" stroke-width="5.2"/>
<line x1="746.8" y1="547.56" x2="760.7" y2="547.56" stroke="#000" stroke-width="5.2"/>
<line x1="746.8" y1="637.1199999999999" x2="760.7" y2="637.1199999999999" stroke="#000" stroke-width="5.2"/>
<line x1="746.8" y1="726.68" x2="760.7" y2="726.68" stroke="#000" stroke-width="5.2"/>
<line x1="746.8" y1="816.24" x2="760.7" y2="816.24" stroke="#000" stroke-width="5.2"/>
<line x1="746.8" y1="905.8" x2="760.7" y2="905.8" stroke="#000" stroke-width="5.2"/>
<line x1="103.8" y1="1203.8000000000002" x2="103.8" y2="1538.5" stroke="#000" stroke-width="5.2"/>
<line x1="90.5" y1="1535.9" x2="597.6" y2="1535.9" stroke="#000" stroke-width="5.2"/>
<line x1="90.5" y1="1206.4" x2="103.8" y2="1206.4" stroke="#000" stroke-width="5.2"/>
<line x1="90.5" y1="1272.3000000000002" x2="103.8" y2="1272.3000000000002" stroke="#000" stroke-width="5.2"/>
<line x1="90.5" y1="1338.2" x2="103.8" y2="1338.2" stroke="#000" stroke-width="5.2"/>
<line x1="90.5" y1="1404.1000000000001" x2="103.8" y2="1404.1000000000001" stroke="#000" stroke-width="5.2"/>
<line x1="90.5" y1="1470.0" x2="103.8" y2="1470.0" stroke="#000" stroke-width="5.2"/>
<line x1="90.5" y1="1535.9" x2="103.8" y2="1535.9" stroke="#000" stroke-width="5.2"/>
<line x1="757.7" y1="1206.1000000000001" x2="757.7" y2="1538.3" stroke="#000" stroke-width="5.2"/>
<line x1="744.8" y1="1535.7" x2="1248" y2="1535.7" stroke="#000" stroke-width="5.2"/>
<line x1="744.8" y1="1208.7" x2="757.7" y2="1208.7" stroke="#000" stroke-width="5.2"/>
<line x1="744.8" y1="1372.2" x2="757.7" y2="1372.2" stroke="#000" stroke-width="5.2"/>
<line x1="744.8" y1="1535.7" x2="757.7" y2="1535.7" stroke="#000" stroke-width="5.2"/>
<line x1="253.6" y1="1864.25" x2="253.6" y2="2189.1" stroke="#000" stroke-width="5.2"/>
<line x1="241.4" y1="2186.5" x2="549" y2="2186.5" stroke="#000" stroke-width="5.2"/>
<line x1="241.4" y1="1866.85" x2="253.6" y2="1866.85" stroke="#000" stroke-width="5.2"/>
<line x1="241.4" y1="1973.4" x2="253.6" y2="1973.4" stroke="#000" stroke-width="5.2"/>
<line x1="241.4" y1="2079.95" x2="253.6" y2="2079.95" stroke="#000" stroke-width="5.2"/>
<line x1="241.4" y1="2186.5" x2="253.6" y2="2186.5" stroke="#000" stroke-width="5.2"/>
<line x1="797.3" y1="1864.18" x2="797.3" y2="2189.1" stroke="#000" stroke-width="5.2"/>
<line x1="785" y1="2186.5" x2="1099.6" y2="2186.5" stroke="#000" stroke-width="5.2"/>
<line x1="785" y1="1866.78" x2="797.3" y2="1866.78" stroke="#000" stroke-width="5.2"/>
<line x1="785" y1="1946.71" x2="797.3" y2="1946.71" stroke="#000" stroke-width="5.2"/>
<line x1="785" y1="2026.6399999999999" x2="797.3" y2="2026.6399999999999" stroke="#000" stroke-width="5.2"/>
<line x1="785" y1="2106.57" x2="797.3" y2="2106.57" stroke="#000" stroke-width="5.2"/>
<line x1="785" y1="2186.5" x2="797.3" y2="2186.5" stroke="#000" stroke-width="5.2"/>
</svg>
</body>
</html>
